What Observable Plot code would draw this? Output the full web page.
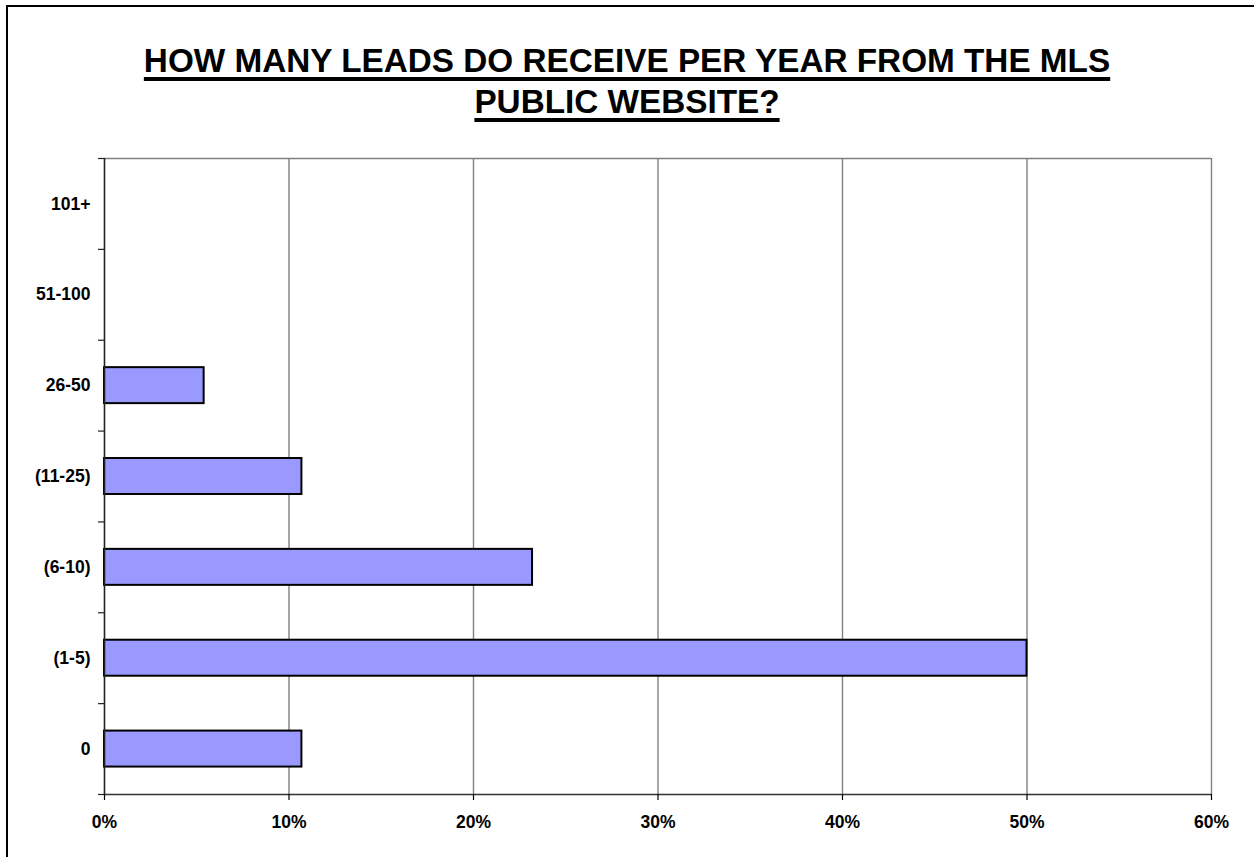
<!DOCTYPE html>
<html>
<head>
<meta charset="utf-8">
<script src="https://cdn.jsdelivr.net/npm/d3@7"></script>
<script src="https://cdn.jsdelivr.net/npm/@observablehq/plot@0.6"></script>
<style>
  html, body { margin: 0; padding: 0; background: #fff; overflow: hidden; }
  #page { position: relative; width: 1254px; height: 857px; overflow: hidden; background: #fff; }
  #frame { position: absolute; left: 6px; top: 5px; width: 1300px; height: 900px; border: 2.5px solid #000; box-sizing: border-box; }
  #title {
    position: absolute; left: 0; top: 40px; width: 1254px; text-align: center;
    font-family: "Liberation Sans", Arial, sans-serif; font-weight: bold; font-size: 33.3px;
    line-height: 41px; text-decoration: underline; text-decoration-thickness: 4px;
    text-underline-offset: 5px; color: #000; z-index: 2;
  }
  #chart { position: absolute; left: 0; top: 0; z-index: 1; }
</style>
</head>
<body>
<div id="page">
  <div id="frame"></div>
  <div id="chart"></div>
  <div id="title">HOW MANY LEADS DO RECEIVE PER YEAR FROM THE MLS<br>PUBLIC WEBSITE?</div>
</div>
<script>
// Answer categories, listed from the bottom of the chart upward
const categories = ["0", "(1-5)", "(6-10)", "(11-25)", "26-50", "51-100", "101+"];
// Share of respondents (%) for each category
const shares = [10.7, 50.0, 23.2, 10.7, 5.4, 0, 0];
// Percentage axis ticks
const xTicks = [0, 10, 20, 30, 40, 50, 60];

const rows = categories.map((c, i) => ({category: c, index: i, share: shares[i]}));
const n = categories.length;

// Category bands on a continuous index scale so ticks can sit on band edges
const barHalf = 0.198;
const font = "'Liberation Sans', Arial, sans-serif";

const chart = Plot.plot({
  width: 1254,
  height: 857,
  marginLeft: 104,
  marginRight: 43,
  marginTop: 158,
  marginBottom: 63,
  style: {fontFamily: font, background: "transparent", color: "#000"},
  x: {type: "linear", domain: [0, 60], label: null},
  y: {type: "linear", domain: [0, n], label: null},
  marks: [
    // vertical gridlines
    Plot.ruleX(xTicks.filter(d => d > 0), {stroke: "#808080", strokeWidth: 1.4}),
    // top edge of the plot area
    Plot.ruleY([n], {stroke: "#808080", strokeWidth: 1.4}),
    // bars (empty categories draw nothing)
    Plot.rect(rows.filter(d => d.share > 0), {
      x1: 0,
      x2: "share",
      y1: d => d.index + 0.5 - barHalf,
      y2: d => d.index + 0.5 + barHalf,
      fill: "#9999FF",
      stroke: "#000",
      strokeWidth: 2
    }),
    // axis lines
    Plot.ruleX([0], {stroke: "#222", strokeWidth: 1.6}),
    Plot.ruleY([0], {stroke: "#333", strokeWidth: 1.6}),
    // tick marks at category boundaries
    Plot.axisY({ticks: d3.range(0, n + 1), tickSize: 6, tickFormat: () => "", stroke: "#222", strokeWidth: 1.2, label: null}),
    // category labels centred in each band
    Plot.axisY({
      ticks: d3.range(0, n).map(i => i + 0.5),
      tickSize: 0,
      tickPadding: 14,
      tickFormat: v => categories[Math.floor(v)],
      fontSize: 17.5,
      fontWeight: "bold",
      fill: "#000",
      label: null
    }),
    // percentage axis
    Plot.axisX({
      ticks: xTicks,
      tickSize: 6,
      tickPadding: 15.5,
      tickFormat: d => d + "%",
      fontSize: 17.5,
      fontWeight: "bold",
      stroke: "#000",
      strokeWidth: 1.2,
      fill: "#000",
      label: null
    })
  ]
});

document.getElementById("chart").appendChild(chart);
</script>
</body>
</html>
